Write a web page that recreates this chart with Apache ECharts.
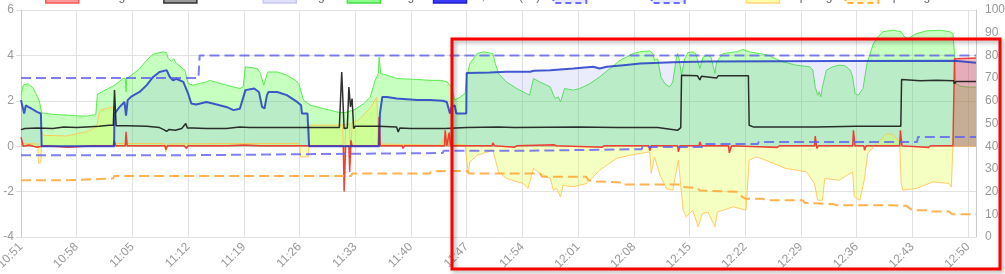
<!DOCTYPE html>
<html><head><meta charset="utf-8">
<script src="https://cdn.jsdelivr.net/npm/echarts@6/dist/echarts.min.js"></script>
<style>html,body{margin:0;padding:0;background:#fff}#c{width:1005px;height:274px}</style>
</head><body><div id="c"></div>
<script>
// x values are minutes after 10:51
const tickLabels = ['10:51','10:58','11:05','11:12','11:19','11:26','11:33','11:40','11:47','11:54','12:01','12:08','12:15','12:22','12:29','12:36','12:43','12:50'];
const seriesNames = ['Heating total','Fan level','Target','Range','In, room (°C)','Max limit','Min limit','Cap. avg','Op. range'];

const greenVals = [[0,2.25],[0.3,2.7],[0.9,2.75],[1.55,2.55],[2.3,2.0],[2.6,1.47],[4,1.4],[5.7,1.37],[8.2,1.32],[9.4,1.4],[9.6,2.29],[11.8,2.69],[12.8,2.98],[13.1,3.0],[13.2,2.4],[13.3,3.0],[13.9,3.13],[14.9,3.42],[15.8,3.79],[16.6,4.05],[17.9,4.16],[18.3,4.12],[18.5,3.86],[18.9,3.75],[19.2,3.85],[19.5,3.65],[20.6,3.35],[21.0,2.76],[21.6,2.69],[23.3,2.83],[23.7,2.9],[25.8,2.69],[27.5,2.54],[27.9,2.61],[28.2,3.5],[29.7,3.42],[30.1,3.2],[30.5,2.69],[31.0,3.27],[32.2,3.27],[33.4,3.13],[34.5,2.9],[34.9,2.76],[35.5,2.03],[36.4,1.8],[38,1.66],[39.7,1.51],[40.6,1.47],[41.8,1.59],[43.1,1.88],[43.9,2.17],[44.5,2.9],[44.9,3.2],[45.0,3.93],[45.2,3.2],[46,3.13],[47.2,2.98],[49.8,2.94],[51.4,2.9],[52.7,2.9],[53.5,2.85],[54.1,2.6],[54.5,2.03],[55.2,2.17],[55.8,2.32],[56,3.05],[56.4,3.64],[57.3,4.08],[58.1,4.16],[59.3,4.08],[59.6,3.64],[60,3.2],[61,2.83],[62.3,2.54],[63.5,2.32],[63.9,2.25],[64.4,2.98],[65.2,2.83],[66.5,2.61],[67.1,2.1],[67.5,2.17],[67.8,1.95],[68.3,2.54],[69.4,2.47],[70.2,2.54],[71.5,2.76],[72.7,3.05],[74,3.42],[75.3,3.79],[76.1,3.93],[76.9,4.08],[77.8,4.16],[79,4.2],[79.4,4.08],[79.6,3.79],[80,3.85],[80.4,3.05],[80.9,2.76],[81.5,2.61],[81.9,2.83],[82.3,3.79],[82.5,4.08],[82.7,3.85],[83,3.13],[83.4,3.85],[83.8,4.12],[84.4,4.16],[84.8,4.08],[85,3.79],[85.3,3.42],[85.7,3.93],[86.3,4.0],[86.7,3.93],[87,3.5],[87.2,3.2],[87.4,3.71],[88.2,4.08],[89.9,4.16],[90.7,4.26],[91.5,4.16],[92.8,4.08],[94,4.0],[94.5,3.9],[95.7,3.72],[97.4,3.57],[99.1,3.5],[99.5,3.35],[99.8,2.61],[100.1,2.25],[100.3,2.4],[100.5,2.17],[100.7,2.61],[101.2,3.35],[102,3.5],[102.8,3.57],[103.5,3.55],[104.2,3.35],[104.5,3.05],[104.8,2.32],[105.2,2.25],[105.8,2.54],[106.3,3.64],[107.1,4.52],[107.7,4.82],[108.3,5.04],[109.6,5.11],[110.6,5.04],[111,4.82],[111.5,4.75],[112.5,4.96],[113.8,5.08],[115.5,5.11],[116.7,5.04],[117.1,4.96],[117.3,4.08],[117.45,2.76],[118,2.65],[119,2.6],[120,2.6]];

const blueVals = [[0,2.03],[0.2,1.73],[0.4,1.44],[0.6,1.8],[0.9,1.73],[1.3,1.66],[2,1.51],[2.5,1.44],[2.6,0],[11.7,0],[11.75,1.44],[12.4,1.73],[13.0,1.95],[13.2,1.35],[13.4,2.03],[13.9,2.2],[14.9,2.39],[15.8,2.69],[16.6,3.05],[17.4,3.27],[18.3,3.35],[18.5,3.27],[18.7,3.05],[19.1,2.9],[19.5,2.97],[20.4,2.83],[21,2.32],[21.4,1.88],[22,1.84],[23.3,1.95],[24.1,1.88],[25.8,1.73],[26.7,1.59],[27.5,1.65],[28.2,2.47],[29.3,2.54],[29.9,2.39],[30.3,1.73],[30.6,1.66],[30.9,2.25],[31.1,2.39],[32.2,2.39],[33.4,2.25],[34.7,1.95],[35.2,1.8],[35.3,1.44],[36,1.44],[36.2,0],[45,0],[45.1,1.44],[45.4,2.17],[46,2.17],[47.2,2.1],[49.8,2.03],[51.4,2.03],[53,2.0],[53.5,1.95],[53.9,1.44],[54.1,1.73],[54.5,1.8],[54.7,1.44],[55.6,1.44],[55.95,1.44],[56,3.23],[58.9,3.25],[61,3.28],[64,3.28],[64.4,3.32],[66.5,3.35],[69.4,3.42],[71.9,3.5],[72.7,3.42],[73.6,3.5],[75.7,3.57],[77.8,3.64],[81.9,3.7],[86.1,3.73],[94.5,3.74],[102.8,3.75],[117.3,3.76],[117.5,3.7],[120,3.68]];

const redVals = [[0,0.4],[0.3,0.0],[1,0.05],[2,-0.05],[3,0.02],[6,-0.05],[9,0.02],[11.6,0.02],[11.7,0.26],[11.9,0.02],[13.1,0.02],[13.2,0.63],[13.35,0.02],[18.1,0.02],[18.2,-0.15],[18.4,0.02],[20.5,0.02],[20.6,0.1],[20.8,-0.1],[21,0.02],[26,0.02],[28,0.05],[30,0.02],[40.5,0.02],[40.6,-2.0],[40.8,0.02],[41.2,0.02],[41.3,-1.13],[41.45,0.26],[41.6,0.02],[44.9,0.02],[45.0,1.3],[45.15,0.02],[47.9,0.02],[48,-0.1],[48.2,0.02],[53.2,0.02],[53.3,0.7],[53.5,0.02],[53.7,0.02],[53.8,0.6],[54,0.02],[59.2,0.02],[59.3,0.15],[59.5,0.02],[62,-0.05],[62.3,0.02],[67,0.06],[67.3,0.02],[73,-0.05],[73.3,0.02],[78.9,0.02],[79,-0.2],[79.2,0.02],[82.5,0.02],[82.6,-0.25],[82.8,0.02],[85.2,0.02],[85.3,0.19],[85.5,0.02],[88.9,0.02],[89,-0.3],[89.3,0.02],[95,-0.06],[95.3,0.02],[99.7,0.02],[99.8,0.45],[100,-0.1],[100.2,0.02],[104.5,0.02],[104.6,0.7],[104.8,0.02],[105.9,0.02],[106,-0.18],[106.2,0.02],[110.4,0.02],[110.5,0.7],[110.7,0.02],[114,-0.06],[114.3,0.02],[117.1,0.02],[117.3,3.85],[120,3.88]];

const blackVals = [[0,0.73],[0.5,0.78],[2,0.8],[4,0.78],[5.4,0.85],[5.6,0.8],[7,0.82],[8.2,0.85],[9.8,0.88],[11.1,0.92],[11.6,0.92],[11.75,2.47],[11.95,0.9],[13.3,0.9],[15.8,0.88],[17.4,0.82],[18,0.72],[18.3,0.65],[18.6,0.74],[19.4,0.7],[20.2,0.78],[20.7,1.0],[20.9,0.8],[21.6,0.8],[23.3,0.78],[25.8,0.78],[27.5,0.85],[28.7,0.82],[40,0.82],[40.3,3.27],[40.6,0.78],[41.0,0.8],[41.2,2.61],[41.4,1.73],[41.6,2.1],[41.8,0.78],[42,0.88],[44.9,0.88],[45,0.85],[47.2,0.85],[47.4,0.63],[47.6,0.8],[49,0.78],[53.3,0.78],[56,0.82],[60,0.85],[62,0.82],[70,0.85],[75,0.82],[80,0.82],[82.5,0.7],[82.9,0.82],[83,3.13],[85,3.1],[85.3,2.92],[85.5,3.08],[87.4,3.0],[87.6,3.1],[91.4,3.1],[91.5,0.92],[92,0.85],[100,0.85],[105,0.88],[110.55,0.88],[110.65,2.94],[113,2.88],[115,2.9],[117.2,2.88],[117.3,2.75],[117.5,2.85],[120,2.85]];

const upperDashVals = [[0,3],[22.3,3],[22.45,4],[120,4]];
const lowerDashVals = [[0,-0.4],[20.2,-0.4],[20.3,-0.32],[53,-0.3],[53.1,-0.2],[63.9,-0.2],[64,-0.13],[78,-0.13],[78.1,-0.03],[85.6,-0.03],[85.7,0.1],[92.6,0.1],[92.7,0.19],[112.6,0.19],[112.7,0.41],[120,0.41]];

const yellowVals = [[0,0.12],[2.1,0.1],[2.2,-0.76],[2.5,-0.7],[2.6,0.66],[2.8,0.48],[5.7,0.45],[7,0.55],[8.2,0.63],[9.5,0.85],[9.9,1.59],[11.6,1.73],[11.7,0.12],[18,0.12],[18.2,-0.25],[18.4,0.1],[26,0.12],[35.0,0.12],[35.1,-0.47],[36.1,-0.47],[36.3,0.93],[40,0.93],[40.4,0.95],[40.6,-1.06],[40.8,0.95],[41.3,1.0],[41.4,-0.8],[41.6,1.05],[42.4,1.15],[44.0,1.73],[44.7,2.17],[44.9,0.1],[52.7,0.04],[53.5,0.6],[54,0.1],[55.8,0.05],[56,-0.62],[56.2,-1.2],[56.4,-0.69],[57.3,-0.4],[59.3,-0.18],[60,-1.13],[61,-1.42],[63.1,-1.64],[63.7,-1.86],[64.4,-0.98],[65.2,-1.2],[66.5,-1.42],[66.9,-1.94],[67.3,-1.86],[67.8,-2.23],[68.1,-1.72],[69.4,-1.79],[71.1,-1.64],[72.7,-1.06],[74.8,-0.54],[76.5,-0.4],[79,-0.25],[79.2,-1.2],[79.6,-0.47],[80.3,-1.28],[81.1,-1.86],[81.9,-1.94],[82.6,-0.62],[83.2,-2.82],[83.6,-3.11],[84.4,-2.82],[85.1,-3.55],[85.6,-2.97],[86.3,-2.9],[87.2,-3.55],[87.5,-2.9],[89.5,-2.67],[91.1,-2.82],[91.5,-0.62],[92.4,-0.47],[93.6,-0.62],[96.1,-0.98],[98.7,-1.13],[99.7,-1.64],[100.1,-2.38],[100.7,-2.38],[101,-1.42],[102.8,-1.5],[104.5,-1.13],[104.7,-2.23],[105.4,-2.38],[106,-1.42],[106.4,-0.32],[107.9,0.26],[108.7,0.53],[109.5,0.53],[110.4,0.19],[110.6,-1.64],[110.8,-1.94],[112.5,-1.86],[114.6,-1.57],[116.6,-1.64],[116.9,-1.8],[117.1,0],[120,0]];

const orangeDashVals = [[0,-1.5],[5.9,-1.5],[6.0,-1.42],[11.6,-1.42],[11.7,-1.31],[41.5,-1.31],[41.6,-1.2],[51.4,-1.2],[51.5,-1.1],[56,-1.09],[56.3,-1.2],[65.2,-1.2],[65.5,-1.35],[71,-1.35],[71.3,-1.5],[72.3,-1.55],[72.4,-1.6],[75.5,-1.6],[75.6,-1.69],[82.8,-1.69],[83,-1.79],[85,-1.85],[85.3,-1.95],[87.8,-1.98],[89.9,-2.01],[90.5,-2.2],[91,-2.31],[93.2,-2.31],[93.6,-2.38],[98.2,-2.38],[98.5,-2.5],[102,-2.55],[102.5,-2.6],[108,-2.6],[111.2,-2.62],[112,-2.82],[114,-2.82],[114.5,-2.88],[116.6,-2.88],[117,-3.0],[120,-3.0]];

const FONT = '"Liberation Sans", Arial, sans-serif';
const chart = echarts.init(document.getElementById('c'), null, {renderer: 'canvas'});

function line(name, data, color, width, extra) {
  return Object.assign({
    name, type: 'line', data, showSymbol: false, symbol: 'none', animation: false,
    lineStyle: {color, width}, itemStyle: {color}
  }, extra || {});
}

chart.setOption({
  animation: false,
  textStyle: {fontFamily: FONT},
  grid: {left: 21, right: 29, top: 10, bottom: 37, containLabel: false, outerBoundsMode: 'none'},
  legend: {
    top: -15, left: 40, itemWidth: 33, itemHeight: 12, itemGap: 12,
    textStyle: {color: '#666', fontSize: 12, fontFamily: FONT},
    data: [
      {name: seriesNames[0], icon: 'rect', itemStyle: {color: '#ff9a9a', borderColor: '#ff5555', borderWidth: 1.5}},
      {name: seriesNames[1], icon: 'rect', itemStyle: {color: '#9a9a9a', borderColor: '#333', borderWidth: 1.5}},
      {name: seriesNames[2], icon: 'rect', itemStyle: {color: '#e0e0fa', borderColor: '#c8c8f2', borderWidth: 1.5}},
      {name: seriesNames[3], icon: 'rect', itemStyle: {color: '#8cff8c', borderColor: '#44dd44', borderWidth: 1.5}},
      {name: seriesNames[4], icon: 'rect', itemStyle: {color: '#3a3aff', borderColor: '#2222cc', borderWidth: 1.5}},
      {name: seriesNames[5], icon: 'rect', itemStyle: {color: '#e8e8ff', borderColor: '#6b6bff', borderWidth: 2, borderType: [6, 4]}},
      {name: seriesNames[6], icon: 'rect', itemStyle: {color: '#e8e8ff', borderColor: '#6b6bff', borderWidth: 2, borderType: [6, 4]}},
      {name: seriesNames[7], icon: 'rect', itemStyle: {color: '#ffffaa', borderColor: '#ffd77a', borderWidth: 1.5}},
      {name: seriesNames[8], icon: 'rect', itemStyle: {color: '#fff5d0', borderColor: '#ffb347', borderWidth: 2, borderType: [6, 4]}}
    ]
  },
  xAxis: {
    type: 'value', min: 0, max: 120, interval: 7,
    axisLine: {lineStyle: {color: '#ccc'}},
    axisTick: {show: true, length: 5, lineStyle: {color: '#ddd'}},
    splitLine: {show: true, lineStyle: {color: '#e2e2e2'}},
    axisLabel: {
      rotate: 45, color: '#999', fontSize: 12, margin: 8, showMaxLabel: false,
      formatter: v => tickLabels[Math.round(v / 7)] || ''
    }
  },
  yAxis: [
    {type: 'value', min: -4, max: 6, interval: 2,
     axisLine: {show: true, lineStyle: {color: '#ccc'}},
     axisTick: {show: true, length: 5, lineStyle: {color: '#ddd'}},
     splitLine: {show: true, lineStyle: {color: '#e2e2e2'}},
     axisLabel: {color: '#999', fontSize: 12, margin: 7}},
    {type: 'value', min: 0, max: 100, interval: 10, position: 'right',
     axisLine: {show: true, lineStyle: {color: '#ccc'}},
     axisTick: {show: false},
     splitLine: {show: false},
     axisLabel: {color: '#999', fontSize: 12, margin: 9}}
  ],
  series: [
    line(seriesNames[3], greenVals, 'rgba(80,235,70,0.95)', 1, {areaStyle: {color: 'rgba(60,255,40,0.42)'}, z: 1}),
    line(seriesNames[2], blueVals, 'rgba(200,200,245,0)', 0, {areaStyle: {color: 'rgba(120,130,235,0.22)'}, z: 2, itemStyle: {color: '#e0e0fa'}}),
    line(seriesNames[7], yellowVals, 'rgba(255,195,80,0.85)', 1, {areaStyle: {color: 'rgba(220,255,60,0.45)'}, z: 3}),
    line(seriesNames[0], redVals, 'rgba(240,50,40,0.9)', 1.5, {areaStyle: {color: 'rgba(220,60,60,0.5)'}, z: 4}),
    line(seriesNames[4], blueVals, 'rgba(35,60,200,0.85)', 2, {z: 5}),
    line(seriesNames[1], blackVals, 'rgba(25,25,25,0.9)', 1.5, {z: 6}),
    line(seriesNames[5], upperDashVals, 'rgba(95,95,240,0.8)', 2, {z: 7, lineStyle: {color: 'rgba(95,95,240,0.8)', width: 2, type: [10, 5]}}),
    line(seriesNames[6], lowerDashVals, 'rgba(95,95,240,0.8)', 2, {z: 7, lineStyle: {color: 'rgba(95,95,240,0.8)', width: 2, type: [10, 5]}}),
    line(seriesNames[8], orangeDashVals, 'rgba(255,170,60,0.9)', 2, {z: 7, lineStyle: {color: 'rgba(255,170,60,0.9)', width: 2, type: [10, 5]}})
  ],
  graphic: [{
    type: 'rect', z: 100,
    shape: {x: 452, y: 39, width: 548, height: 230},
    style: {fill: 'none', stroke: '#ff0000', lineWidth: 3,
            shadowBlur: 4, shadowColor: 'rgba(0,0,0,0.35)', shadowOffsetX: 2, shadowOffsetY: 2}
  }]
});
</script></body></html>
